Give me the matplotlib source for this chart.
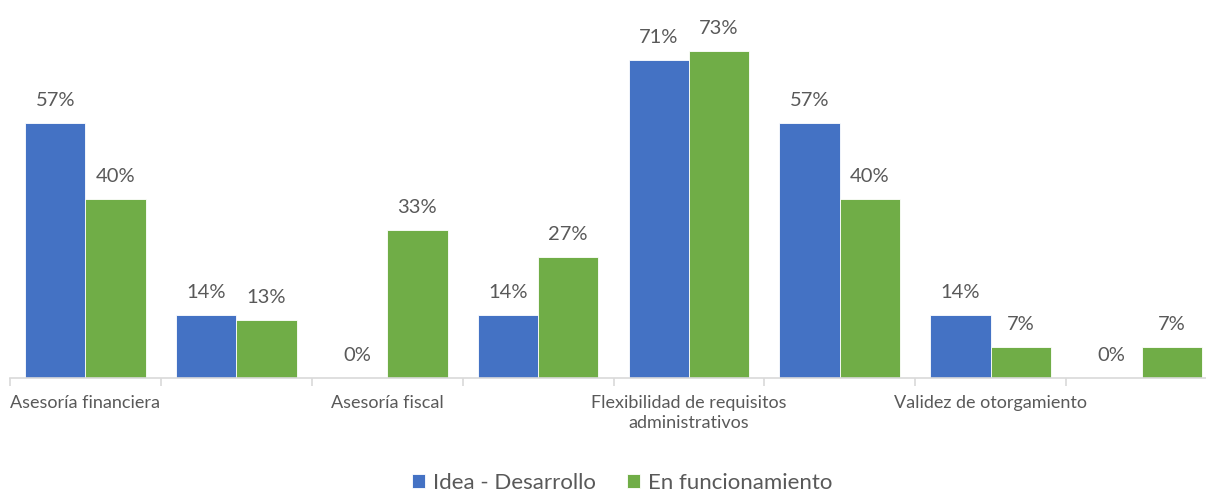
import numpy as np
import matplotlib
matplotlib.use("Agg")
from matplotlib import pyplot as plt
from matplotlib.ticker import FixedLocator

plt.rcParams['font.family'] = ['Lato', 'DejaVu Sans']

categories = [
    "Asesoría financiera",
    "",
    "Asesoría fiscal",
    "",
    "Flexibilidad de requisitos\nadministrativos",
    "",
    "Validez de otorgamiento",
    "",
]
idea = [57, 14, 0, 14, 71, 57, 14, 0]
funcionando = [40, 13, 33, 27, 73, 40, 7, 7]
series_names = ["Idea - Desarrollo", "En funcionamiento"]

blue = "#4472C4"
green = "#70AD47"
txt = "#595959"

fig = plt.figure(figsize=(12.06, 4.93), dpi=100)
ax = fig.add_axes([10 / 1206, 115 / 493, 1207 / 1206, 358 / 493])

x = np.arange(len(categories))
w = 0.4
b1 = ax.bar(x - w / 2, idea, w, color=blue, edgecolor="white", linewidth=0.6, label=series_names[0])
b2 = ax.bar(x + w / 2, funcionando, w, color=green, edgecolor="white", linewidth=0.6, label=series_names[1])

for bars in (b1, b2):
    for r in bars:
        h = r.get_height()
        ax.annotate(f"{h:.0f}%", (r.get_x() + r.get_width() / 2, h),
                    xytext=(0, 10), textcoords="offset points",
                    ha="center", va="bottom", fontsize=14.5, color=txt)

ax.set_xlim(-0.5, len(categories) - 0.5)
ax.set_ylim(0, 80)
ax.set_yticks([])
for s in ["top", "right", "left"]:
    ax.spines[s].set_visible(False)
ax.spines["bottom"].set_color("#d9d9d9")
ax.spines["bottom"].set_linewidth(1.2)

ax.xaxis.set_major_locator(FixedLocator(np.arange(len(categories) + 1) - 0.5))
ax.xaxis.set_major_formatter(plt.NullFormatter())
ax.xaxis.set_minor_locator(FixedLocator(x))
ax.set_xticklabels(categories, minor=True, fontsize=13, color=txt, linespacing=1.35)
ax.tick_params(axis="x", which="major", length=6, color="#d9d9d9", width=1.2)
ax.tick_params(axis="x", which="minor", length=0, pad=12)

fig.legend(handles=[b1, b2], labels=series_names, loc="center", bbox_to_anchor=(622 / 1206, 1 - 483 / 493),
           ncol=2, frameon=False, fontsize=16, labelcolor=txt, handlelength=0.6, handleheight=0.6,
           handletextpad=0.35, columnspacing=1.4)

fig.savefig("out.png", dpi=100)
